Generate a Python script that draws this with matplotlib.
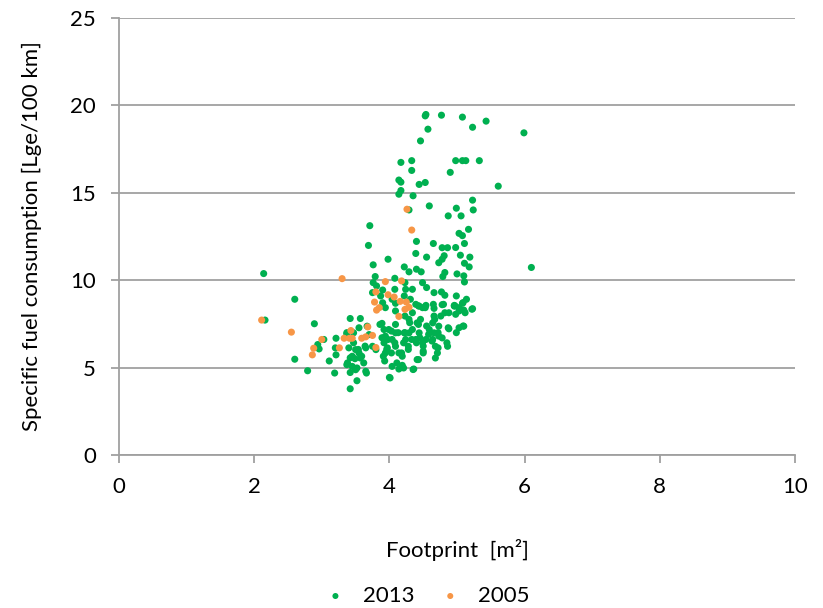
import matplotlib.pyplot as plt

# 2013 models: footprint [m2], specific fuel consumption [Lge/100 km]
x_2013 = [4.53, 4.54, 4.77, 5.08, 5.43, 5.23, 4.57, 5.99, 4.46, 4.17,
          4.33, 4.98, 5.08, 5.13, 5.33, 4.33, 4.90, 4.14, 4.17, 4.44,
          4.53, 5.61, 4.17, 4.14, 4.35, 4.59, 5.23, 4.99, 5.24, 4.29,
          4.87, 5.06, 3.71, 5.17, 5.03, 5.08, 4.40, 4.65, 4.98, 4.78,
          4.86, 5.11, 3.69, 4.39, 4.55, 4.81, 4.78, 4.73, 5.05, 5.19,
          5.11, 5.18, 6.10, 3.98, 3.76, 4.22, 4.40, 4.47, 4.29, 4.82,
          4.79, 5.00, 5.10, 5.11, 2.14, 3.79, 4.08, 3.76, 3.81, 4.49,
          4.55, 4.23, 4.24, 4.08, 4.34, 4.66, 4.77, 4.82, 4.99, 5.14,
          5.08, 3.75, 3.90, 2.60, 4.04, 4.09,
          4.39, 4.44, 4.49, 4.54, 4.66, 4.78, 4.96, 5.03, 5.10, 5.23,
          4.31, 4.22, 4.09, 3.94, 3.90, 3.87,
          4.23, 4.29, 4.34, 4.41, 4.46, 4.34, 4.44, 4.54, 4.49, 4.59,
          4.66, 4.73, 4.64, 4.68, 4.71, 4.68, 4.41, 4.50, 4.39, 4.29,
          4.28, 4.88, 5.03, 5.10, 4.86, 4.78, 4.73, 4.88, 5.03, 4.96,
          4.66, 4.76, 4.64, 3.89, 3.92, 3.94, 3.92, 3.97, 3.94, 3.93,
          4.00, 4.04, 4.14, 4.19, 4.36, 3.99, 4.09, 4.04, 4.09, 4.14,
          4.19, 4.24, 4.22, 4.09, 3.70, 3.80,
          2.89, 2.60, 2.79, 2.96, 2.94, 3.03, 3.11, 3.21, 3.20, 3.21,
          3.19, 3.42, 3.57, 3.37, 3.47, 3.55, 3.67, 3.40, 3.50, 3.55,
          3.65, 3.75, 3.38, 3.45, 3.50, 3.62, 3.65, 3.66, 3.42, 3.52,
          3.42, 3.45, 3.57, 3.49,
          4.43, 4.53, 4.65, 4.80, 4.97, 5.09, 5.12, 5.22, 4.98, 4.82,
          4.67, 4.55, 4.43, 4.30, 4.23, 4.13, 4.03, 3.98, 4.08, 4.21,
          4.33, 4.45, 4.58, 4.72, 4.87, 5.09, 4.99, 4.85, 4.72, 4.63,
          4.50, 4.40, 4.28, 4.18, 4.03, 3.96, 4.11, 4.21, 4.35, 4.50,
          4.43, 4.01,
          3.37, 3.47, 3.54, 3.64, 3.42, 3.59, 3.37, 3.52, 3.86, 3.89,
          3.91, 2.16]
y_2013 = [19.40, 19.48, 19.44, 19.33, 19.10, 18.75, 18.64, 18.43, 17.97, 16.74,
          16.84, 16.84, 16.84, 16.84, 16.84, 16.28, 16.17, 15.73, 15.61, 15.48,
          15.59, 15.38, 15.13, 14.92, 14.83, 14.25, 14.58, 14.12, 14.02, 14.02,
          13.68, 13.68, 13.12, 12.91, 12.68, 12.55, 12.22, 12.10, 11.87, 11.86,
          11.86, 12.10, 11.99, 11.53, 11.32, 11.40, 11.20, 11.00, 11.43, 11.32,
          10.97, 10.76, 10.73, 11.20, 10.88, 10.76, 10.63, 10.48, 10.48, 10.44,
          10.21, 10.36, 10.25, 9.90, 10.38, 10.21, 10.11, 9.86, 9.67, 9.86,
          9.58, 9.86, 9.48, 9.48, 9.48, 9.29, 9.33, 9.14, 9.10, 8.91,
          8.68, 9.29, 9.44, 8.91, 8.91, 8.68,
          8.62, 8.52, 8.43, 8.56, 8.39, 8.60, 8.52, 8.43, 8.29, 8.37,
          8.91, 9.10, 8.24, 8.43, 8.71, 9.10,
          7.95, 7.76, 8.14, 7.56, 7.76, 7.18, 6.99, 6.61, 6.42, 7.18,
          6.99, 6.80, 6.61, 6.22, 5.84, 5.55, 5.46, 5.94, 6.61, 6.99,
          6.22, 7.22, 7.28, 7.37, 6.22, 6.70, 7.37, 8.14, 8.24, 8.56,
          7.95, 7.95, 7.56, 7.53, 7.18, 6.80, 6.42, 6.13, 5.84, 5.38,
          4.44, 5.07, 4.92, 5.13, 4.92, 7.18, 6.99, 6.61, 6.22, 5.84,
          5.65, 6.61, 6.99, 7.47, 6.89, 6.03,
          7.51, 5.48, 4.82, 6.07, 6.32, 6.61, 5.38, 6.68, 6.13, 5.73,
          4.69, 7.81, 7.81, 6.93, 6.99, 7.28, 7.37, 6.13, 6.03, 5.84,
          6.13, 6.22, 5.27, 5.07, 4.88, 5.27, 4.79, 4.69, 4.72, 4.25,
          3.79, 5.65, 5.55, 5.51,
          8.53, 8.43, 8.62, 8.62, 8.53, 8.72, 8.14, 8.34, 8.05, 8.14,
          7.76, 7.38, 7.47, 7.57, 7.00, 7.00, 7.09, 6.61, 6.42, 6.42,
          6.61, 6.71, 6.90, 7.00, 7.28, 7.38, 7.00, 6.42, 6.13, 6.52,
          6.23, 6.42, 6.04, 5.84, 5.84, 6.04, 5.27, 4.98, 4.89, 5.84,
          5.46, 4.41,
          7.00, 6.42, 6.04, 6.23, 5.56, 5.65, 5.17, 4.98, 7.47, 6.71,
          5.65, 7.72]

# 2005 models
x_2005 = [2.11, 2.55, 3.30, 3.00, 2.88, 2.86, 3.26, 3.33, 3.41, 3.45,
          3.43, 3.59, 3.65, 3.68, 3.75, 3.80, 4.26, 4.33, 3.94, 4.18,
          3.80, 3.78, 3.81, 3.85, 3.98, 4.07, 4.16, 4.25, 4.23, 4.29,
          4.14]
y_2005 = [7.72, 7.03, 10.09, 6.61, 6.11, 5.73, 6.13, 6.68, 6.68, 6.68,
          7.12, 6.68, 6.76, 7.33, 6.84, 6.15, 14.06, 12.87, 9.92, 9.96,
          9.33, 8.75, 8.29, 8.43, 9.17, 9.04, 8.79, 8.75, 8.33, 8.45,
          7.93]

plt.rcParams['font.family'] = ['Lato', 'DejaVu Sans']
fig = plt.figure(figsize=(8.23, 6.08), dpi=100)
ax = fig.add_axes([0.1446, 0.2516, 0.8214, 0.7188])

ax.scatter(x_2013, y_2013, s=26, color='#00B050', edgecolors='none', label='2013', zorder=3)
ax.scatter(x_2005, y_2005, s=26, color='#F79646', edgecolors='none', label='2005', zorder=4)

ax.set_xlim(0, 10)
ax.set_ylim(0, 25)
ax.set_xticks(range(0, 11, 2))
ax.set_yticks(range(0, 26, 5))
ax.yaxis.grid(True, color='#A0A0A0', linewidth=1.3)
ax.set_axisbelow(True)
for s in ['top', 'right']:
    ax.spines[s].set_visible(False)
for s in ['left', 'bottom']:
    ax.spines[s].set_color('#A0A0A0')
    ax.spines[s].set_linewidth(1.3)
ax.tick_params(axis='both', colors='#A0A0A0', labelcolor='black', labelsize=16,
               length=5.5, width=1.3)
ax.tick_params(axis='x', pad=10)
ax.tick_params(axis='y', pad=11)

ax.set_xlabel('Footprint  [m²]', fontsize=16, va='center')
ax.xaxis.set_label_coords(0.5, -0.217)
ax.set_ylabel('Specific fuel consumption [Lge/100 km]', fontsize=16, va='center')
ax.yaxis.set_label_coords(-0.129, 0.5)

fig.legend(loc='center', bbox_to_anchor=(0.512, 0.02), ncol=2, frameon=False,
           fontsize=16, handletextpad=0.25, columnspacing=0.6, markerscale=0.85)

fig.savefig('out.png', dpi=100)
